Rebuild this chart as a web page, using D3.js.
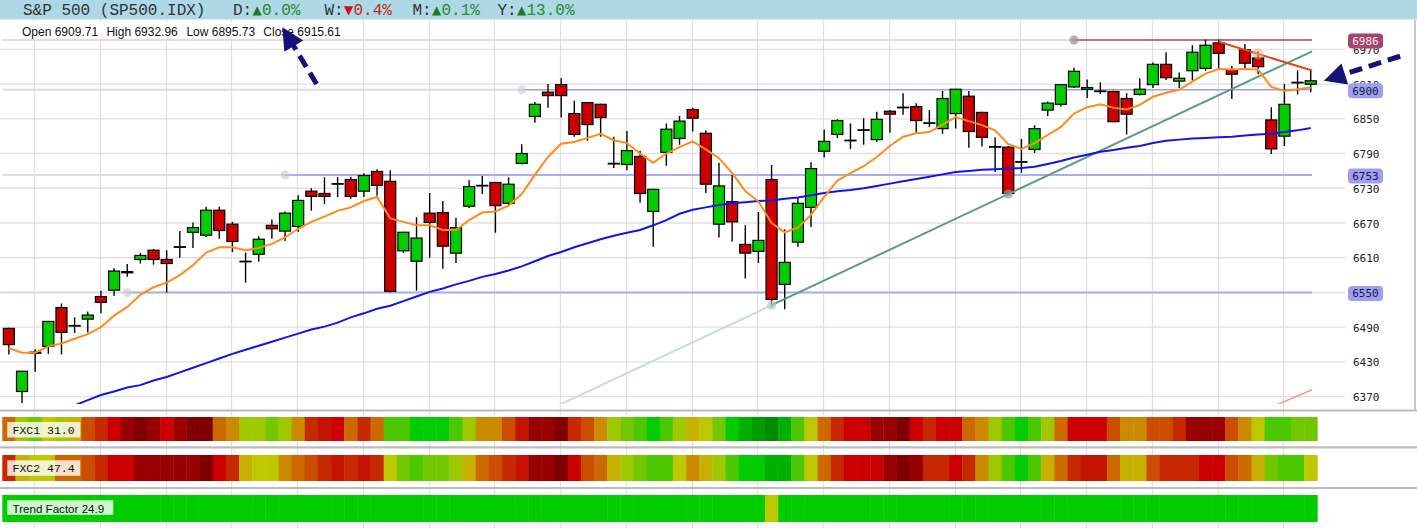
<!DOCTYPE html>
<html><head><meta charset="utf-8">
<script src="https://cdn.jsdelivr.net/npm/d3@7"></script>
<style>body{margin:0;background:#fff;overflow:hidden}svg{display:block}</style>
</head><body><svg id="c" width="1417" height="528"></svg>
<script>
// ---------------- DATA ----------------
const symbolName = "S&P 500 (SP500.IDX)";
const periodNames = ["D", "W", "M", "Y"];
const periodChanges = [0.0, -0.4, 0.1, 13.0];
const ohlcNames = ["Open", "High", "Low", "Close"];

const opens = [6488,6379,6445,6457,6524,6492,6504,6543,6554,6584, 6607,6623,6607,6628,6654,6649,6692,6668,6603,6616, 6666,6656,6664,6725,6721,6737,6745,6725,6759,6742, 6622,6604,6687,6688,6618,6699,6734,6740,6704,6773, 6854,6896,6909,6859,6878,6875,6772,6771,6785,6690, 6792,6816,6866,6825,6668,6707,6633,6621,6745,6564, 6637,6697,6794,6823,6812,6830,6814,6863,6869,6871, 6842,6833,6859,6889,6861,6801,6801,6775,6797,6865, 6875,6905,6901,6898,6897,6885,6892,6909,6944,6915, 6933,6937,6981,6935,6969,6955,6848,6820,6912,6909.71];
const highs = [6489,6414,6452,6500,6531,6507,6517,6553,6592,6599, 6618,6625,6623,6656,6671,6698,6698,6672,6619,6647, 6676,6690,6718,6730,6749,6749,6750,6756,6763,6761, 6655,6680,6722,6708,6679,6744,6751,6741,6749,6806, 6879,6910,6920,6881,6879,6876,6819,6829,6795,6729, 6842,6855,6869,6830,6774,6753,6666,6689,6770,6659, 6714,6775,6831,6849,6842,6851,6862,6865,6894,6877, 6865,6898,6902,6898,6862,6818,6803,6815,6839,6880, 6910,6938,6918,6913,6899,6894,6920,6947,6965,6930, 6977,6987,6987,6941,6979,6966,6870,6910,6934,6932.96];
const lows = [6443,6359,6413,6444,6443,6480,6481,6514,6544,6577, 6600,6598,6550,6610,6627,6646,6643,6620,6567,6603, 6643,6639,6655,6691,6703,6715,6712,6715,6717,6550, 6618,6553,6610,6591,6601,6696,6720,6653,6701,6771, 6843,6869,6852,6819,6812,6819,6765,6761,6705,6629, 6769,6805,6828,6722,6645,6638,6574,6601,6525,6521, 6629,6663,6783,6817,6798,6805,6810,6826,6857,6826, 6836,6824,6833,6800,6802,6758,6718,6757,6791,6855, 6871,6903,6886,6893,6844,6823,6890,6903,6917,6903, 6916,6933,6937,6884,6936,6927,6789,6803,6892,6895.73];
const closes = [6460,6414,6447,6500,6481,6493,6511,6533,6587,6586, 6614,6607,6600,6629,6662,6692,6657,6638,6604,6642, 6660,6687,6709,6716,6716,6738,6716,6752,6735,6552, 6654,6644,6671,6630,6662,6733,6735,6700,6737,6790, 6875,6890,6890,6823,6840,6852,6773,6795,6721,6728, 6832,6846,6851,6737,6734,6672,6618,6640,6538,6602, 6704,6764,6811,6847,6813,6831,6849,6858,6870,6847, 6843,6885,6901,6828,6818,6802,6721,6776,6833,6877, 6909,6932,6904,6897,6845,6858,6901,6944,6921,6920, 6965,6977,6963,6927,6946,6940,6798,6875,6913,6915.61];

const maFast = [6454,6446,6446,6457,6462,6470,6478,6490,6510,6525, 6546,6559,6567,6580,6597,6619,6628,6628,6623,6627, 6634,6645,6660,6672,6681,6691,6697,6708,6715,6678, 6672,6666,6666,6658,6658,6675,6688,6690,6700,6720, 6753,6784,6807,6810,6817,6824,6813,6808,6790,6774, 6790,6801,6811,6797,6782,6756,6725,6707,6670,6654, 6662,6684,6715,6743,6756,6768,6784,6803,6819,6825, 6827,6840,6853,6846,6839,6830,6806,6798,6808,6822, 6836,6859,6870,6875,6869,6866,6874,6888,6895,6900, 6914,6928,6936,6935,6936,6935,6905,6898,6901,6904];
const maSlow = [null,null,null,null,null,6355,6364,6373,6379,6386, 6390,6398,6404,6412,6420,6428,6436,6444,6451,6458, 6465,6472,6479,6486,6491,6498,6507,6514,6522,6527, 6535,6543,6551,6557,6564,6570,6577,6582,6588,6595, 6604,6613,6620,6628,6635,6642,6648,6653,6658,6666, 6675,6686,6693,6697,6701,6704,6706,6708,6709,6712, 6714,6718,6722,6725,6727,6730,6734,6738,6742,6746, 6750,6754,6758,6760,6762,6763,6764,6765,6767,6772, 6777,6783,6788,6793,6796,6800,6803,6808,6812,6814, 6816,6817,6818,6819,6821,6823,6824,6827,6830,6834];

const yTicks = [6370,6430,6490,6550,6610,6670,6730,6790,6850,6910,6970];
const levels = [6986, 6900, 6753, 6550];
const levelAnchors = [81, 39, 21, 9];
const supportLine = [[58, 6528], [76, 6720]];
const resistLine = [[92, 6983], [95, 6962]];
const lowerLine = [[96, 6352], [99, 6381]];
const arrowNotes = [
  {from: [23.4, 6910], to: [20.8, 7008]},
  {from: [105.8, 6958], to: [100.0, 6915.6]}
];

const indicatorNames = ["FXC1", "FXC2", "Trend Factor"];
const indicatorValues = [31.0, 47.4, 24.9];
const fxc1 = [10,6,5,7,6,8,11,12,14,15, 16,15,14,15,16,16,10,9,6,6, 5,6,9,12,13,14,10,12,10,4, 4,3,3,3,4,6,9,9,11,13, 15,15,16,12,11,9,6,5,4,3, 4,6,8,7,5,3,2,1,0,2, 4,7,10,12,14,14,15,15,16,14, 12,14,14,10,9,6,4,3,4,6, 10,14,14,14,11,9,9,11,11,12, 15,15,15,11,9,7,4,4,5,5];
const fxc2 = [12,8,7,7,10,10,11,12,14,14, 15,15,15,15,15,16,14,12,8,7, 7,9,10,11,12,13,12,13,12,7, 5,4,5,5,6,8,10,11,12,13, 15,15,16,14,11,10,8,6,5,4, 4,7,9,8,6,4,3,3,2,2, 4,7,10,12,14,14,14,15,16,15, 12,12,14,12,9,6,4,3,4,8, 10,12,13,13,10,8,8,11,12,12, 12,14,14,11,10,8,5,4,4,7];
const trendFactor = [3,3,3,3,3,3,3,3,3,3, 3,3,3,3,3,3,3,3,3,3, 3,3,3,3,3,3,3,3,3,3, 3,3,3,3,3,3,3,3,3,3, 3,3,3,3,3,3,3,3,3,3, 3,3,3,3,3,3,3,3,7,3, 3,3,3,3,3,3,3,3,3,3, 3,3,3,3,3,3,3,3,3,3, 3,3,3,3,3,3,3,3,3,3, 3,3,3,3,3,3,3,3,3,3];
const heatPalette = ["#008a00","#009c00","#00b000","#00cc00","#4cc800","#72c800","#a0c800","#bec800","#c8b000","#cc8a00","#cc6a00","#cc4c00","#c82800","#c41400","#cc0000","#990000","#800000"];

// ---------------- CHART ----------------
const svg = d3.select("#c");
const n = closes.length;
const x = d3.scaleBand().domain(d3.range(n)).range([2.3, 1317.3]).padding(0);
const xc = i => x(i) + x.bandwidth() / 2;
const xl = d3.scaleLinear().domain([0, n - 1]).range([xc(0), xc(n - 1)]);
const y = d3.scaleLinear().domain([6370, 6970]).range([396.7, 49.3]);
const heat = d3.scaleOrdinal().domain(d3.range(heatPalette.length)).range(heatPalette);
const mono = "'Liberation Mono', 'DejaVu Sans Mono', monospace";
const sans = "'Liberation Sans', Arial, sans-serif";

const defs = svg.append("defs");
defs.append("clipPath").attr("id", "plotClip").append("rect")
  .attr("x", 0).attr("y", 19.5).attr("width", 1345).attr("height", 384.5);

// header
svg.append("rect").attr("x", 0).attr("y", 0).attr("width", 1417).attr("height", 19.5).attr("fill", "#add8e6");

// vertical grid
const vIdx = d3.range(2, n, 5);
svg.append("g").selectAll("line").data(vIdx).join("line")
  .attr("x1", i => Math.round(xc(i) - 1) + 0.5).attr("x2", i => Math.round(xc(i) - 1) + 0.5)
  .attr("y1", 19.5).attr("y2", 528).attr("stroke", "#e0e0e0").attr("stroke-width", 1.3);

// horizontal grid
svg.append("g").selectAll("line").data(yTicks).join("line")
  .attr("x1", 0).attr("x2", 1345)
  .attr("y1", d => y(d)).attr("y2", d => y(d)).attr("stroke", "#e0e0e0").attr("stroke-width", 1.3);

// OHLC readout
const last = n - 1;
const ohlcVals = [opens[last], highs[last], lows[last], closes[last]];
const ohlcX = [22, 106.4, 186.4, 263.3];
svg.append("rect").attr("x", 18).attr("y", 22).attr("width", 330).attr("height", 17).attr("fill", "#fff");
svg.append("g").selectAll("text").data(ohlcNames).join("text")
  .attr("x", (d, i) => ohlcX[i]).attr("y", 35.5)
  .attr("font-family", sans).attr("font-size", 12).attr("fill", "#111")
  .text((d, i) => d + " " + ohlcVals[i].toFixed(2));

const plot = svg.append("g").attr("clip-path", "url(#plotClip)");

// level lines
const lvlFaint = ["#ecd7e1", "#dadaf2", "#dcdce6", "#dcdce8"];
const lvlMain = ["#b8708f", "#9c9cf0", "#acacf4", "#acacf4"];
levels.forEach((lv, k) => {
  const a = levelAnchors[k];
  plot.append("line").attr("x1", x.range()[0]).attr("x2", xl(a))
    .attr("y1", y(lv)).attr("y2", y(lv)).attr("stroke", lvlFaint[k]).attr("stroke-width", 2);
  plot.append("line").attr("x1", xl(a)).attr("x2", xl(n - 1 + 0.1))
    .attr("y1", y(lv)).attr("y2", y(lv)).attr("stroke", lvlMain[k]).attr("stroke-width", k === 1 ? 1.5 : 2);
});

// candles
const idx = d3.range(n);
plot.append("g").selectAll("line").data(idx).join("line")
  .attr("x1", i => xc(i)).attr("x2", i => xc(i))
  .attr("y1", i => y(highs[i])).attr("y2", i => y(lows[i]))
  .attr("stroke", "#000").attr("stroke-width", 1.4);
const bw = x.bandwidth() * 0.84;
plot.append("g").selectAll("rect").data(idx).join("rect")
  .attr("x", i => xc(i) - bw / 2).attr("width", bw)
  .attr("y", i => y(Math.max(opens[i], closes[i])))
  .attr("height", i => Math.max(0.6, Math.abs(y(opens[i]) - y(closes[i]))))
  .attr("fill", i => closes[i] >= opens[i] ? "#00cc00" : "#cc0000")
  .attr("stroke", "#000").attr("stroke-width", 1.2);

// trend lines
const lineVal = (seg, i) => seg[0][1] + (i - seg[0][0]) * (seg[1][1] - seg[0][1]) / (seg[1][0] - seg[0][0]);
function seg(line, i0, i1, color, w) {
  plot.append("line").attr("x1", xl(i0)).attr("y1", y(lineVal(line, i0)))
    .attr("x2", xl(i1)).attr("y2", y(lineVal(line, i1)))
    .attr("stroke", color).attr("stroke-width", w);
}
seg(supportLine, 40, supportLine[0][0], "#c9ddd2", 2);
seg(supportLine, supportLine[0][0], n - 1 + 0.1, "#5c9c80", 2);
seg(resistLine, resistLine[0][0], n - 1 + 0.1, "#dd4a1a", 2);
seg(lowerLine, 95, n - 1 + 0.1, "#f49a86", 1.5);

// moving averages
const ln = d3.line().defined(d => d != null).x((d, i) => xc(i)).y(d => y(d));
plot.append("path").attr("d", ln(maSlow)).attr("fill", "none").attr("stroke", "#1414e6").attr("stroke-width", 2);
plot.append("path").attr("d", ln(maFast)).attr("fill", "none").attr("stroke", "#ff8c1a").attr("stroke-width", 2);

// anchor dots
levels.forEach((lv, k) => {
  plot.append("circle").attr("cx", xl(levelAnchors[k])).attr("cy", y(lv)).attr("r", 4.5)
    .attr("fill", k === 0 ? "rgba(150,150,150,0.75)" : "rgba(200,200,210,0.6)");
});
plot.append("circle").attr("cx", xl(supportLine[0][0])).attr("cy", y(supportLine[0][1])).attr("r", 4.5).attr("fill", "rgba(170,205,190,0.7)");
plot.append("circle").attr("cx", xl(supportLine[1][0])).attr("cy", y(supportLine[1][1])).attr("r", 4.5).attr("fill", "rgba(130,160,145,0.7)");
plot.append("circle").attr("cx", xl(resistLine[1][0])).attr("cy", y(resistLine[1][1])).attr("r", 5.5).attr("fill", "rgba(255,170,120,0.55)");

// y labels
svg.append("g").selectAll("text").data(yTicks).join("text")
  .attr("x", 1353).attr("y", d => y(d) + 1).attr("dominant-baseline", "central")
  .attr("font-family", "'DejaVu Sans Mono', monospace").attr("font-size", 11).attr("fill", "#222")
  .text(d => d);

// level badges
const badge = svg.append("g").selectAll("g").data(levels).join("g");
badge.append("rect").attr("x", 1348).attr("y", d => y(d) - 6.5).attr("width", 35).attr("height", 15).attr("rx", 4)
  .attr("fill", (d, k) => k === 0 ? "#a4456f" : "#9e9ef4");
badge.append("text").attr("x", 1365.5).attr("y", d => y(d) + 1.2).attr("text-anchor", "middle").attr("dominant-baseline", "central")
  .attr("font-family", "'DejaVu Sans Mono', monospace").attr("font-size", 11)
  .attr("fill", (d, k) => k === 0 ? "#f6e8ee" : "#1a1a3a").text(d => d);

// heatmap rows
const rows = [fxc1, fxc2, trendFactor];
const rowY = [417, 455, 495];
const rowH = [24, 26, 27];
rows.forEach((vals, r) => {
  svg.append("g").selectAll("rect").data(vals).join("rect")
    .attr("x", (d, i) => x(i)).attr("width", x.bandwidth() + 0.4)
    .attr("y", rowY[r]).attr("height", rowH[r]).attr("fill", d => heat(d));
});
// separators
[410.5, 447.3, 488].forEach(sy => {
  svg.append("line").attr("x1", 0).attr("x2", 1417).attr("y1", sy).attr("y2", sy).attr("stroke", "#bcbcbc").attr("stroke-width", 2.2);
});
svg.append("line").attr("x1", 1415).attr("x2", 1415).attr("y1", 19.5).attr("y2", 410).attr("stroke", "#c8c8c8").attr("stroke-width", 2);

// indicator labels
const labBox = [[7.3, 422, 73, 15.5], [7.3, 460.3, 73, 15.5], [7.3, 500.3, 106, 14.5]];
indicatorNames.forEach((nm, r) => {
  const b = labBox[r];
  svg.append("rect").attr("x", b[0]).attr("y", b[1]).attr("width", b[2]).attr("height", b[3]).attr("fill", "rgba(255,255,255,0.8)");
  svg.append("text").attr("x", 12.5).attr("y", b[1] + b[3] / 2 + 0.5).attr("dominant-baseline", "central")
    .attr("font-family", r < 2 ? mono : sans).attr("font-size", r < 2 ? 11.5 : 11.6).attr("fill", "#111")
    .text(nm + " " + indicatorValues[r].toFixed(1));
});

// header text
svg.append("text").attr("x", 23).attr("y", 14.5).attr("font-family", mono).attr("font-size", 16).attr("fill", "#333").text(symbolName);
const px = [233, 324.5, 412.5, 497.5];
periodNames.forEach((p, k) => {
  const up = periodChanges[k] >= 0;
  const col = up ? "#2a8a2a" : "#cc2020";
  svg.append("text").attr("x", px[k]).attr("y", 14.5).attr("font-family", mono).attr("font-size", 16).attr("fill", "#333").text(p + ":");
  svg.append("text").attr("x", px[k] + 19.5).attr("y", 14).attr("font-family", "'DejaVu Sans', sans-serif").attr("font-size", 12)
    .attr("fill", up ? "#1e7a1e" : "#d01010").text(up ? "▲" : "▼");
  svg.append("text").attr("x", px[k] + 29).attr("y", 14.5).attr("font-family", mono).attr("font-size", 16).attr("fill", col)
    .text(Math.abs(periodChanges[k]).toFixed(1) + "%");
});

// arrows
const arrowCol = "#12127a";
arrowNotes.forEach(a => {
  const x1 = xl(a.from[0]), y1 = y(a.from[1]), x2 = xl(a.to[0]), y2 = y(a.to[1]);
  const dx = x2 - x1, dy = y2 - y1, L = Math.hypot(dx, dy), ux = dx / L, uy = dy / L;
  const hl = 22, hw = 11;
  const bx = x2 - ux * hl, by = y2 - uy * hl;
  svg.append("line").attr("x1", x1).attr("y1", y1).attr("x2", bx + ux * 2).attr("y2", by + uy * 2)
    .attr("stroke", arrowCol).attr("stroke-width", 5).attr("stroke-dasharray", "13,7");
  svg.append("path").attr("d", d3.line()([[x2, y2], [bx - uy * hw, by + ux * hw], [bx + uy * hw, by - ux * hw]]) + "Z")
    .attr("fill", arrowCol);
});
</script></body></html>
